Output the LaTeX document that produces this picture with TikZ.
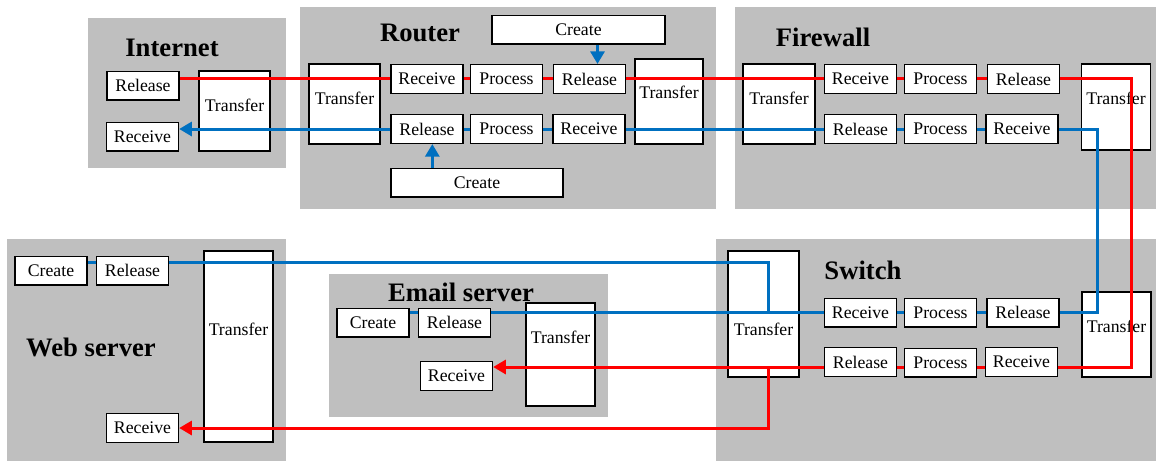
\documentclass[tikz,border=0pt]{standalone}
\usepackage{fontspec}
\setmainfont{Liberation Serif}
\usetikzlibrary{arrows.meta}
\pgfdeclarelayer{panel}
\pgfdeclarelayer{tallbox}
\pgfdeclarelayer{wire}
\pgfsetlayers{panel,tallbox,wire,main}
\definecolor{panelgray}{RGB}{191,191,191}
\definecolor{wireblue}{RGB}{0,112,192}
\definecolor{wirered}{RGB}{255,0,0}

\begin{document}
\begin{tikzpicture}[x=0.75pt,y=0.75pt,yscale=-1,xscale=1,
  font=\fontsize{13.3}{15}\selectfont,
  box/.style={draw, fill=white, line width=1pt, inner sep=0pt, minimum width=54pt, minimum height=21.5pt},
  tall/.style={draw, fill=white, line width=1pt, inner sep=0pt, label={[anchor=center,yshift=-#1]90:Transfer}},
  tall/.default=26pt,
  title/.style={font=\fontsize{20}{24}\selectfont\bfseries, inner sep=0pt},
  redwire/.style={draw=wirered, line width=2.25pt},
  bluewire/.style={draw=wireblue, line width=2.25pt},
  tip/.style={-{Triangle[length=9.5pt,width=10.5pt]}}]
%set diagram left start at 0, and has height of 462
\useasboundingbox (0,0) rectangle (1156,462);

\begin{pgfonlayer}{panel}
%Shape: Rectangle [Internet]
\fill[panelgray] (88,18) rectangle (286,168);
%Shape: Rectangle [Router]
\fill[panelgray] (300,7) rectangle (716,209);
%Shape: Rectangle [Firewall]
\fill[panelgray] (735,7) rectangle (1156,209);
%Shape: Rectangle [Web server]
\fill[panelgray] (7,239) rectangle (286,461);
%Shape: Rectangle [Email server]
\fill[panelgray] (329,274) rectangle (608,417);
%Shape: Rectangle [Switch]
\fill[panelgray] (716,239) rectangle (1156,461);
\end{pgfonlayer}

\begin{pgfonlayer}{tallbox}
%Shape: Rectangle [Transfer]
\node (intTr) [tall, minimum width=53.25pt, minimum height=60pt] at (234.5,111) {};
\node (rtTrL) [tall, minimum width=53.25pt, minimum height=60pt] at (344.5,104) {};
\node (rtTrR) [tall=25.5pt, minimum width=51pt, minimum height=63.75pt] at (669,101.5) {};
\node (fwTrL) [tall, minimum width=54pt, minimum height=60pt] at (779,104) {};
\node (fwTrR) [tall, minimum width=51.75pt, minimum height=64.5pt] at (1116,107) {};
\node (webTr) [tall=59pt, minimum width=51.75pt, minimum height=143.25pt] at (238.5,346.5) {};
\node (emTr) [tall, minimum width=51.75pt, minimum height=77.25pt] at (560.5,354.5) {};
\node (swTrL) [tall=59pt, minimum width=53.25pt, minimum height=94.5pt] at (763.5,314) {};
\node (swTrR) [tall, minimum width=51.75pt, minimum height=63.75pt] at (1116.5,334.5) {};
\end{pgfonlayer}

% Text Node
\node (intT) [title] at (172,48) {Internet};
\node (intRel) [box] at (143,85.5) {Release};
\node (intRec) [box] at (142.5,136.5) {Receive};

% Text Node
\node (rtT) [title] at (420,33) {Router};
\node (rtCreT) [box, minimum width=129.75pt] at (578.5,29.5) {Create};
\node (rtRecA) [box] at (427,79) {Receive};
\node (rtProA) [box] at (506.5,79) {Process};
\node (rtRelA) [box] at (589.5,79) {Release};
\node (rtRelB) [box] at (427,129) {Release};
\node (rtProB) [box] at (506.5,129) {Process};
\node (rtRecB) [box] at (589,129) {Receive};
\node (rtCreB) [box, minimum width=129pt] at (477,182.5) {Create};

% Text Node
\node (fwT) [title] at (823,37) {Firewall};
\node (fwRecA) [box] at (860.5,79) {Receive};
\node (fwProA) [box] at (940.5,79) {Process};
\node (fwRelA) [box] at (1023.5,79) {Release};
\node (fwRelB) [box] at (860.5,129) {Release};
\node (fwProB) [box] at (940.5,129) {Process};
\node (fwRecB) [box] at (1022,129) {Receive};

% Text Node
\node (webT) [title] at (91,347) {Web server};
\node (webCre) [box] at (51,270.5) {Create};
\node (webRel) [box] at (132.5,270.5) {Release};
\node (webRec) [box] at (142.5,428) {Receive};

% Text Node
\node (emT) [title] at (461,292) {Email server};
\node (emCre) [box] at (373,322.5) {Create};
\node (emRel) [box] at (454.5,322.5) {Release};
\node (emRec) [box] at (456.5,376) {Receive};

% Text Node
\node (swT) [title] at (863,270) {Switch};
\node (swRecA) [box] at (860.5,312.5) {Receive};
\node (swProA) [box] at (940.5,312.5) {Process};
\node (swRelA) [box] at (1023,312.5) {Release};
\node (swRelB) [box] at (860.5,362) {Release};
\node (swProB) [box] at (940.5,362.5) {Process};
\node (swRecB) [box] at (1021.5,362) {Receive};

\coordinate (redTurn) at (1131,78);
\coordinate (redFork) at (768,367);
\coordinate (blueTurn) at (1097,129);
\coordinate (blueJoin) at (768,262);

\begin{pgfonlayer}{wire}
%Straight Lines [outgoing]
\draw[redwire] (intRel.east |- redTurn) -- (redTurn) |- (redFork);
\draw[redwire, tip] (redFork) -- (emRec.east |- redFork);
\draw[redwire, tip] (redFork) |- (webRec.east);
%Straight Lines [incoming]
\draw[bluewire, tip] (webCre.east |- blueJoin) -- (blueJoin) |- (swRelA -| blueTurn) -- (blueTurn) -- (intRec.east |- blueTurn);
\draw[bluewire] (emCre.east |- swRecA) -- (blueJoin |- swRecA);
%Straight Lines [create]
\draw[bluewire, tip] ([xshift=6pt]rtRelA.north |- rtCreT.south) -- ([xshift=6pt]rtRelA.north);
\draw[bluewire, tip] ([xshift=4pt]rtRelB.south |- rtCreB.north) -- ([xshift=4pt]rtRelB.south);
\end{pgfonlayer}

\end{tikzpicture}
\end{document}
